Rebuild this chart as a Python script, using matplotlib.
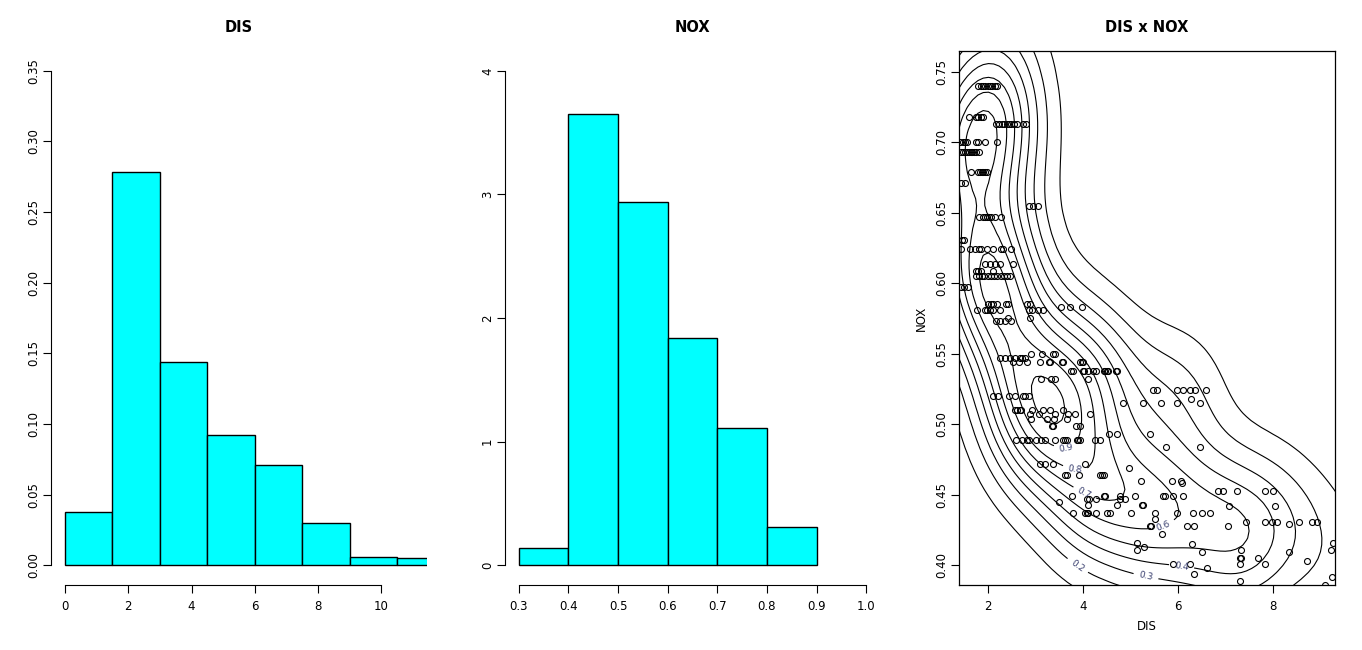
import numpy as np
import matplotlib
matplotlib.use("Agg")
import matplotlib.pyplot as plt

# histogram of DIS (density per bin of width 1.5)
dis_breaks = [0, 1.5, 3, 4.5, 6, 7.5, 9, 10.5, 12]
dis_density = [0.038, 0.278, 0.144, 0.092, 0.071, 0.030, 0.006, 0.005]

# histogram of NOX (density per bin of width 0.1)
nox_breaks = [0.3, 0.4, 0.5, 0.6, 0.7, 0.8, 0.9]
nox_density = [0.14, 3.65, 2.94, 1.84, 1.11, 0.31]

# scatter points, grouped by NOX value: (nox, [dis, ...])
rows_visible = [
    (0.740, [1.80, 1.85, 1.90, 1.95, 2.00, 2.05, 2.10, 2.15, 2.20]),
    (0.718, [1.61, 1.75, 1.80, 1.85, 1.90]),
    (0.713, [2.18, 2.24, 2.30, 2.35, 2.40, 2.45, 2.50, 2.56, 2.61, 2.74, 2.81]),
    (0.700, [1.42, 1.47, 1.53, 1.56, 1.75, 1.80, 1.94, 2.19]),
    (0.693, [1.44, 1.48, 1.52, 1.56, 1.60, 1.64, 1.68, 1.72, 1.76, 1.82]),
    (0.679, [1.65, 1.80, 1.84, 1.87, 1.90, 1.94, 1.99]),
    (0.671, [1.44, 1.52]),
    (0.655, [2.87, 2.96, 3.06]),
    (0.647, [1.81, 1.91, 1.95, 1.99, 2.03, 2.08, 2.15, 2.29]),
    (0.631, [1.45, 1.50]),
    (0.624, [1.44, 1.63, 1.73, 1.82, 1.85, 1.99, 2.12, 2.27, 2.33, 2.48]),
    (0.614, [1.94, 2.05, 2.15, 2.26, 2.54]),
    (0.609, [1.75, 1.80, 1.85, 2.12]),
    (0.605, [1.75, 1.81, 1.87, 1.93, 2.00, 2.07, 2.13, 2.20, 2.27, 2.35, 2.41, 2.47]),
    (0.597, [1.44, 1.50, 1.58]),
    (0.585, [2.01, 2.06, 2.12, 2.19, 2.39, 2.43, 2.82, 2.89]),
    (0.583, [3.54, 3.73, 3.98]),
    (0.581, [1.77, 1.94, 1.99, 2.05, 2.12, 2.26, 2.86, 2.93, 3.05, 3.17]),
    (0.575, [2.43, 2.88]),
    (0.573, [2.18, 2.26, 2.36, 2.50]),
    (0.550, [2.91, 3.14, 3.38, 3.42]),
    (0.547, [2.26, 2.36, 2.47, 2.58, 2.68, 2.73, 2.79]),
    (0.544, [2.53, 2.65, 2.82, 3.10, 3.28, 3.31, 3.56, 3.59, 3.94, 3.98, 4.01]),
    (0.538, [3.75, 3.79, 4.00, 4.03, 4.12, 4.22, 4.28, 4.44, 4.47, 4.51, 4.54, 4.70, 4.73]),
    (0.532, [3.12, 3.33, 3.42, 4.12]),
    (0.524, [5.47, 5.56, 5.98, 6.11, 6.26, 6.37, 6.60]),
    (0.520, [2.12, 2.22, 2.44, 2.58, 2.74, 2.79, 2.86]),
    (0.518, [6.28]),
    (0.515, [4.84, 5.26, 5.64, 5.98, 6.47]),
    (0.510, [2.58, 2.61, 2.67, 2.70, 2.93, 3.16, 3.31, 3.58]),
    (0.507, [2.89, 3.07, 3.42, 3.68, 3.84, 4.15]),
    (0.504, [2.91, 3.24, 3.40, 3.66]),
    (0.499, [3.36, 3.38, 3.86, 3.94]),
    (0.493, [4.56, 4.73, 5.42]),
    (0.489, [2.60, 2.72, 2.82, 2.86, 3.02, 3.12, 3.21, 3.42, 3.59, 3.63, 3.66,
             3.87, 3.91, 3.94, 4.25, 4.36]),
    (0.484, [5.75, 6.47]),
    (0.472, [3.10, 3.21, 3.38, 4.04]),
    (0.469, [4.98]),
    (0.464, [3.63, 3.66, 3.93, 4.36, 4.40, 4.44]),
    (0.460, [5.23, 5.87, 6.07]),
    (0.458, [6.08]),
    (0.453, [6.84, 6.95, 7.24, 7.84, 8.00]),
    (0.449, [3.77, 4.44, 4.46, 4.79, 5.10, 5.70, 5.74, 5.89, 6.11]),
    (0.447, [4.10, 4.14, 4.29, 4.79, 4.89]),
    (0.445, [3.51]),
    (0.443, [4.12, 4.72, 5.24, 5.26]),
    (0.442, [7.07, 8.04]),
    (0.437, [3.80, 4.05, 4.09, 4.12, 4.27, 4.52, 4.58, 5.02, 5.52, 5.98, 6.33, 6.51, 6.68]),
    (0.433, [5.52]),
    (0.431, [7.43, 7.84, 7.98, 8.08, 8.56, 8.82, 8.93]),
    (0.429, [8.35]),
    (0.428, [5.42, 5.43, 6.19, 6.34, 7.05]),
    (0.4225, [5.66]),
    (0.416, [5.14, 9.26]),
    (0.415, [6.29]),
    (0.413, [5.30]),
    (0.411, [5.14, 7.33, 9.22]),
    (0.4095, [6.52, 8.35]),
    (0.405, [7.31, 7.33, 7.68]),
    (0.403, [8.73]),
    (0.401, [5.91, 6.25, 7.31, 7.84]),
    (0.398, [6.62]),
    (0.394, [6.35]),
    (0.392, [9.24]),
    (0.389, [7.31]),
    (0.386, [9.10]),
]

# points outside the visible window (estimated), they still feed the density
rows_hidden = [
    (0.871, [1.32, 1.41, 1.42, 1.52, 1.46, 1.53, 1.53, 1.62, 1.59, 1.61, 1.62,
             1.75, 1.75, 1.74, 1.88]),
    (0.770, [1.90, 2.10, 2.12, 2.30, 2.51, 2.51, 2.52, 2.72]),
    (0.718, [1.33, 1.36]),
    (0.700, [1.35, 1.38]),
    (0.693, [1.32, 1.36, 1.39]),
    (0.668, [1.13, 1.14, 1.17]),
    (0.671, [1.35, 1.39]),
    (0.631, [1.20, 1.31, 1.36]),
    (0.597, [1.30, 1.35]),
    (0.411, [9.50, 10.60]),
    (0.392, [9.60]),
    (0.398, [10.10]),
    (0.385, [10.60, 10.70]),
    (0.401, [11.00]),
    (0.410, [12.10]),
]

# overplotted duplicates (estimated from the histogram counts), density only
rows_stacked = [
    (0.740, [1.85, 1.90, 1.95, 2.00, 2.05, 2.10]),
    (0.718, [1.75, 1.80, 1.85]),
    (0.713, [2.24, 2.30, 2.35, 2.40, 2.45, 2.50, 2.56]),
    (0.693, [1.64]),
    (0.679, [1.87]),
    (0.647, [1.99]),
    (0.624, [1.82, 1.99]),
    (0.605, [1.93, 2.07]),
    (0.597, [1.58, 1.58]),
    (0.585, [2.01, 2.12, 2.39]),
    (0.581, [1.94, 2.05, 2.12]),
    (0.573, [2.26, 2.36]),
    (0.547, [2.26, 2.36, 2.47, 2.68]),
    (0.544, [2.53, 2.65, 3.28, 3.56]),
    (0.538, [3.75, 3.79, 4.00, 4.03, 4.12, 4.22, 4.28, 4.44, 4.51, 4.70]),
    (0.532, [3.33, 3.42]),
    (0.524, [5.47, 5.56, 5.98]),
    (0.520, [2.12, 2.58, 2.79]),
    (0.515, [5.26, 5.64, 5.98]),
    (0.510, [2.58, 2.61, 2.70]),
    (0.507, [2.89]),
    (0.504, [2.91]),
    (0.499, [3.36, 3.86]),
    (0.493, [4.56, 4.73]),
    (0.489, [2.60, 2.72, 2.82, 3.12, 3.21, 3.59, 3.63, 3.91, 3.94]),
    (0.472, [3.10, 3.21]),
    (0.464, [3.63, 4.40]),
    (0.460, [5.23, 5.87]),
    (0.453, [6.84, 6.95, 7.24, 7.84, 8.00]),
    (0.449, [4.44, 4.79, 5.10, 5.70, 5.89]),
    (0.447, [4.10, 4.14]),
    (0.443, [5.24, 5.26]),
    (0.442, [7.07, 7.07]),
    (0.437, [4.05, 4.09, 4.12, 4.52, 4.58, 5.02, 5.52, 6.33, 6.51, 6.68]),
    (0.433, [5.52, 5.52]),
    (0.431, [7.43, 7.43, 7.84, 7.98, 8.56, 8.82]),
    (0.428, [5.42, 5.43, 6.19, 6.34, 7.05]),
    (0.416, [5.14, 5.14]),
    (0.411, [7.33, 7.33]),
    (0.4095, [6.52, 6.52, 8.35]),
    (0.405, [7.31, 7.33, 7.33, 7.68]),
    (0.401, [6.25, 7.31, 7.31, 7.84]),
]

# contour labels that R left inside the window, and roughly where
contour_label_levels = [0.2, 0.3, 0.4, 0.6, 0.7, 0.8, 0.9]
contour_label_spots = [(3.9, 0.400), (5.3, 0.388), (6.05, 0.392), (5.85, 0.415),
                       (4.1, 0.455), (3.85, 0.470), (3.65, 0.485)]


def flatten(rows):
    xs, ys = [], []
    for nv, dl in rows:
        xs += dl
        ys += [nv] * len(dl)
    return np.array(xs), np.array(ys)


def bw_nrd(v):
    q = np.quantile(v, [0.25, 0.75])
    h = (q[1] - q[0]) / 1.34
    return 4 * 1.06 * min(np.std(v, ddof=1), h) * len(v) ** (-0.2)


def kde2d(x, y, n=100):
    # MASS::kde2d with its default bandwidth, finer grid
    gx = np.linspace(x.min(), x.max(), n)
    gy = np.linspace(y.min(), y.max(), n)
    hx = bw_nrd(x) / 4
    hy = bw_nrd(y) / 4
    kx = np.exp(-0.5 * ((gx[:, None] - x[None, :]) / hx) ** 2) / np.sqrt(2 * np.pi)
    ky = np.exp(-0.5 * ((gy[:, None] - y[None, :]) / hy) ** 2) / np.sqrt(2 * np.pi)
    z = kx @ ky.T / (len(x) * hx * hy)
    return gx, gy, z


vx, vy = flatten(rows_visible)
hx_, hy_ = flatten(rows_hidden)
sx, sy = flatten(rows_stacked)
all_x = np.concatenate([vx, hx_, sx])
all_y = np.concatenate([vy, hy_, sy])

W, H = 1362, 650
fig = plt.figure(figsize=(W / 100, H / 100), dpi=100)


def add_ax(l, r, t, b):
    return fig.add_axes([l / W, 1 - b / H, (r - l) / W, (b - t) / H])


def r_hist(ax, breaks, dens, xlim, ylim, xticks, yticks, xfmt, yfmt, title):
    b = np.array(breaks)
    ax.bar(b[:-1], dens, width=np.diff(b), align="edge", color="#00ffff",
           edgecolor="black", linewidth=1.0)
    dx = (xlim[1] - xlim[0]) * 0.04
    dy = (ylim[1] - ylim[0]) * 0.04
    ax.set_xlim(xlim[0] - dx, xlim[1] + dx)
    ax.set_ylim(ylim[0] - dy, ylim[1] + dy)
    for s in ("top", "right"):
        ax.spines[s].set_visible(False)
    ax.spines["left"].set_bounds(yticks[0], yticks[-1])
    ax.spines["bottom"].set_bounds(xticks[0], xticks[-1])
    ax.set_xticks(xticks)
    ax.set_yticks(yticks)
    ax.set_xticklabels([xfmt % t for t in xticks])
    ax.set_yticklabels([yfmt % t for t in yticks], rotation=90, va="center")
    ax.tick_params(direction="out", length=6, width=0.8, labelsize=8.5)
    ax.tick_params(axis="y", pad=2)
    ax.tick_params(axis="x", pad=5)
    ax.set_title(title, fontsize=10.5, fontweight="bold", pad=14)


ax1 = add_ax(51, 427, 51, 585)
r_hist(ax1, dis_breaks, dis_density, (0, 11), (0, 0.35),
       [0, 2, 4, 6, 8, 10], [0, 0.05, 0.10, 0.15, 0.20, 0.25, 0.30, 0.35],
       "%g", "%.2f", "DIS")

ax2 = add_ax(505, 880, 51, 585)
r_hist(ax2, nox_breaks, nox_density, (0.3, 1.0), (0, 4),
       [0.3, 0.4, 0.5, 0.6, 0.7, 0.8, 0.9, 1.0], [0, 1, 2, 3, 4],
       "%.1f", "%g", "NOX")

ax3 = add_ax(959, 1335, 51, 585)
ax3.plot(vx, vy, "o", mfc="none", mec="black", ms=4.3, mew=0.8)
gx, gy, z = kde2d(all_x, all_y)
levels = np.arange(1, int(z.max() * 10) + 1) / 10
for lv in levels:
    cs = ax3.contour(gx, gy, z.T, levels=[lv], colors="black", linewidths=0.8)
    key = round(float(lv), 1)
    if key in contour_label_levels:
        spot = contour_label_spots[contour_label_levels.index(key)]
        try:
            cs.clabel(fmt="%.1f", fontsize=6.5, inline=True, inline_spacing=2,
                      colors="#3a4070", manual=[spot])
        except Exception:
            pass
ax3.set_xlim(1.396, 9.31)
ax3.set_ylim(0.386, 0.7647)
ax3.set_xticks([2, 4, 6, 8])
ax3.set_yticks([0.40, 0.45, 0.50, 0.55, 0.60, 0.65, 0.70, 0.75])
ax3.set_yticklabels(["%.2f" % t for t in ax3.get_yticks()], rotation=90, va="center")
ax3.tick_params(direction="out", length=6, width=0.8, labelsize=8.5)
ax3.tick_params(axis="y", pad=2)
ax3.tick_params(axis="x", pad=5)
for s in ax3.spines.values():
    s.set_linewidth(0.9)
ax3.set_xlabel("DIS", fontsize=8.5, labelpad=5)
ax3.set_ylabel("NOX", fontsize=8.5, labelpad=5)
ax3.set_title("DIS x NOX", fontsize=10.5, fontweight="bold", pad=14)

fig.savefig("out.png", dpi=100)
